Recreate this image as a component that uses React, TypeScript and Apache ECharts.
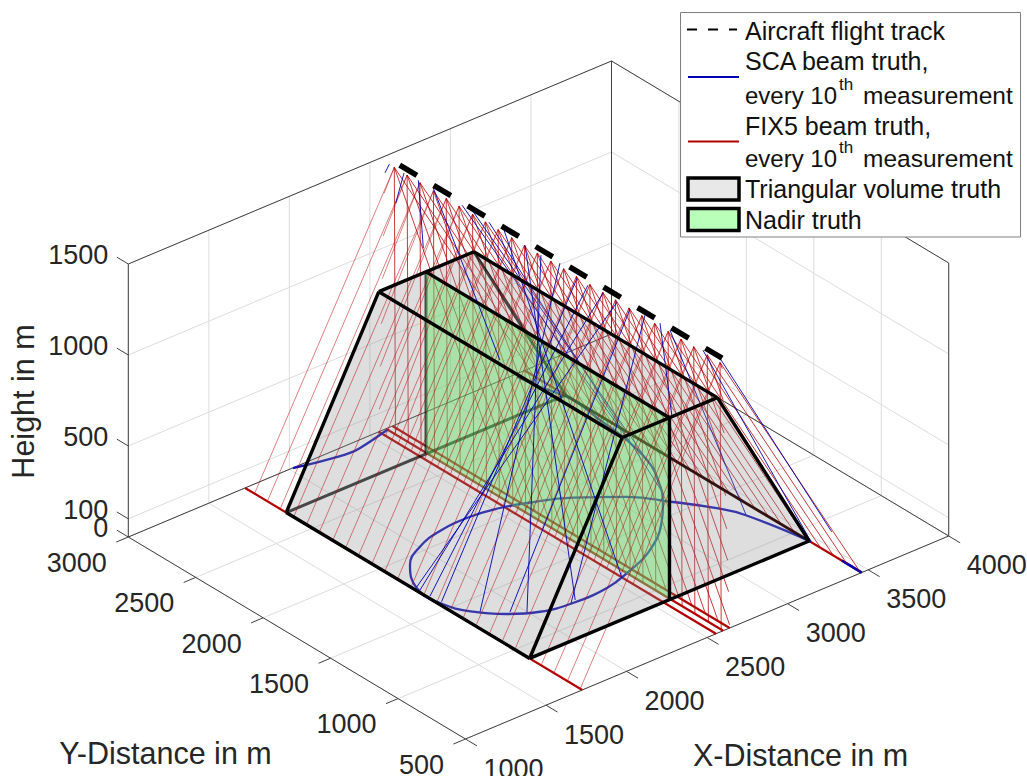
import React, { useEffect, useRef } from "react";
import * as echarts from "echarts";

// ---- axis data ----
const xTicks = [1000, 1500, 2000, 2500, 3000, 3500, 4000];
const yTicks = [500, 1000, 1500, 2000, 2500, 3000];
const zTicks = [0, 100, 500, 1000, 1500];

// ---- truth volume ----
const baseX = [1725, 3460];
const topX = [2300, 2890];
const volY = [890, 2695];
const volTop = 1000;
const nadirX = 2593;

// ---- flight track ----
const trackY = [2890, 500];
const trackZ = 1500;

// ---- FIX5 beams: measurement positions along track and ground target of the five beams ----
const fixTrackY = [2930, 2835, 2740, 2640, 2545, 2450, 2350, 2255, 2160, 2060, 1965, 1870, 1770, 1675, 1580, 1480, 1385, 1290, 1190, 1095, 1000, 900, 805, 710, 610, 515];
const fixBeamX = [3460, 2640, 2600, 2555, 1725];
const fixBeamDY = [0, -800, 0, 600, 0];
const beamTopZ = 1470;

// ---- SCA ground curves (x, y) ----
const scaCurveX = [3463, 3385, 3318, 3201, 3064, 2862, 2662, 2533, 2371, 2174, 2005, 1857, 1742, 1735, 1803, 1912, 2047, 2221, 2436, 2601, 2825, 3051, 3158, 3280, 3362, 3415, 3434, 3458, 3418, 3393];
const scaCurveY = [880, 1275, 1418, 1590, 1767, 1927, 2029, 2075, 2103, 2091, 2038, 1935, 1748, 1567, 1403, 1283, 1198, 1161, 1166, 1214, 1311, 1493, 1613, 1796, 1975, 2216, 2410, 2638, 2835, 2976];
const scaArcX = [2596, 2388, 2321, 2228, 2091, 2020];
const scaArcY = [2988, 2939, 2934, 2949, 2978, 2997];
const scaTipX = [3460, 3460];
const scaTipY = [646, 500];

// ---- SCA beams: [track y, start z, end x, end y, end z] ----
const scaBeams = [
  [2967, 1471, 2593, 2999, 1409],
  [2858, 1471, 2593, 2920, 1277],
  [2752, 1478, 2593, 2715, 1121],
  [2641, 1484, 2593, 2147, 758],
  [2428, 1485, 3415, 2178, 0],
  [2369, 1500, 3362, 1975, 0],
  [2228, 1480, 3230, 1714, 0],
  [2124, 1499, 2552, 1193, 0],
  [1961, 1472, 2247, 1176, 0],
  [1843, 1470, 1998, 1236, 0],
  [1702, 1489, 1829, 1382, 0],
  [1576, 1461, 1749, 1572, 0],
  [1494, 1460, 1741, 1648, 0],
  [1383, 1465, 1742, 1723, 0],
  [1279, 1462, 1748, 1755, 0],
  [1183, 1466, 1936, 1288, 0],
  [1072, 1482, 2214, 1167, 0],
  [960, 1488, 2593, 871, 1011],
  [886, 1482, 3389, 1273, 0],
  [642, 1481, 3463, 880, 0],
  [530, 1503, 3599, 889, 0],
];

const blue = "#0000b4";
const red = "#b40000";
const tickColor = "#404040";
const textColor = "#262626";
const font = "Liberation Sans";

// ---- view projection of the 3D axes ----
const X0 = 1000, Y0 = 500;
const proj = (x: number, y: number, z: number): number[] => [
  465.5 + (x - X0) * 0.16107 - (y - Y0) * 0.13488,
  739 - (x - X0) * 0.06767 - (y - Y0) * 0.0808 - z * 0.182,
];
type P3 = number[];
const xMin = 1000, xMax = 4000, yMin = 500, yMax = 3000, zMax = 1500;

const seg = (a: P3, b: P3) => [proj(a[0], a[1], a[2]), proj(b[0], b[1], b[2])];

// axes-limit clipping along y, as the plot box does
function clipY(a: P3, b: P3): number[][] {
  let t0 = 0, t1 = 1;
  const dy = b[1] - a[1];
  if (dy !== 0) {
    const ta = (yMin - a[1]) / dy, tb = (yMax - a[1]) / dy;
    const lo = Math.min(ta, tb), hi = Math.max(ta, tb);
    t0 = Math.max(t0, lo); t1 = Math.min(t1, hi);
  }
  const at = (t: number) => a.map((v, i) => v + (b[i] - v) * t);
  return seg(at(t0), at(t1));
}

function lineSeries(name: string, segs: number[][][], style: any, z: number, smooth: number | boolean = false) {
  const data: any[] = [];
  segs.forEach((s, i) => {
    if (i > 0) data.push([NaN, NaN]);
    s.forEach((p) => data.push(p));
  });
  return {
    type: "line", name, data, z, silent: true, showSymbol: false, symbol: "none", clip: false, smooth,
    connectNulls: false, lineStyle: { cap: "butt", join: "round", ...style },
  };
}

function polySeries(polys: { pts: number[][]; fill: string }[], z: number) {
  return {
    type: "custom", z, silent: true, clip: false,
    data: polys.map((p) => p.pts[0]),
    encode: { x: 0, y: 1 },
    renderItem: (params: any, api: any) => {
      const p = polys[params.dataIndex];
      return { type: "polygon", shape: { points: p.pts.map((q) => api.coord(q)) }, style: { fill: p.fill, stroke: "none" } };
    },
  };
}

function textSeries(items: { p: number[]; t: string; align: string }[], z: number) {
  return {
    type: "custom", z, silent: true, clip: false,
    data: items.map((i) => i.p),
    encode: { x: 0, y: 1 },
    renderItem: (params: any, api: any) => {
      const it = items[params.dataIndex];
      const c = api.coord(it.p);
      return {
        type: "text", x: c[0], y: c[1],
        style: { text: it.t, font: `27px "${font}"`, fill: textColor, align: it.align, verticalAlign: "middle", textAlign: it.align, textVerticalAlign: "middle" },
      };
    },
  };
}

const legendText = (text: string, x: number, y: number, size = 25) => ({
  type: "text", z: 102, silent: true, x, y,
  style: { text, font: `${size}px "${font}"`, fill: "#111111", align: "left", verticalAlign: "middle", textAlign: "left", textVerticalAlign: "middle" },
});
const axisTitle = (text: string, x: number, y: number, rotation = 0) => ({
  type: "text", z: 90, silent: true, x, y, rotation,
  style: { text, font: `30.5px "${font}"`, fill: textColor, align: "center", verticalAlign: "middle", textAlign: "center", textVerticalAlign: "middle" },
});
const legendLine = (x1: number, x2: number, y: number, stroke: string, lineDash?: number[]) => ({
  type: "line", z: 101, silent: true, shape: { x1, y1: y, x2, y2: y },
  style: { stroke, lineWidth: 2, lineDash },
});
const legendSwatch = (y: number, fill: string) => ({
  type: "rect", z: 101, silent: true, shape: { x: 688, y, width: 51, height: 22 },
  style: { fill, stroke: "#000000", lineWidth: 3.5 },
});

function buildOption() {
  // --- grid lines ---
  const grid: number[][][] = [];
  xTicks.forEach((x) => {
    grid.push(seg([x, yMin, 0], [x, yMax, 0]));
    grid.push(seg([x, yMax, 0], [x, yMax, zMax]));
  });
  yTicks.forEach((y) => {
    grid.push(seg([xMin, y, 0], [xMax, y, 0]));
    grid.push(seg([xMax, y, 0], [xMax, y, zMax]));
  });
  zTicks.forEach((z) => {
    grid.push(seg([xMin, yMax, z], [xMax, yMax, z]));
    grid.push(seg([xMax, yMax, z], [xMax, yMin, z]));
  });
  // --- axis box and tick marks ---
  const box: number[][][] = [
    seg([xMin, yMin, 0], [xMin, yMax, 0]),
    seg([xMin, yMin, 0], [xMax, yMin, 0]),
    seg([xMin, yMax, 0], [xMax, yMax, 0]),
    seg([xMax, yMin, 0], [xMax, yMax, 0]),
    seg([xMin, yMax, 0], [xMin, yMax, zMax]),
    seg([xMax, yMax, 0], [xMax, yMax, zMax]),
    seg([xMax, yMin, 0], [xMax, yMin, zMax]),
    seg([xMin, yMax, zMax], [xMax, yMax, zMax]),
    seg([xMax, yMin, zMax], [xMax, yMax, zMax]),
  ];
  xTicks.forEach((x) => box.push(seg([x, yMin, 0], [x, yMin - 85, 0])));
  yTicks.forEach((y) => box.push(seg([xMin, y, 0], [xMin - 75, y, 0])));
  zTicks.forEach((z) => box.push(seg([xMin, yMax, z], [xMin, yMax + 85, z])));

  // --- tick labels ---
  const labels: { p: number[]; t: string; align: string }[] = [];
  xTicks.forEach((x) => {
    const p = proj(x, yMin, 0);
    labels.push({ p: [p[0] + 18, p[1] + 29.5], t: String(x), align: "left" });
  });
  yTicks.forEach((y) => {
    const p = proj(xMin, y, 0);
    labels.push({ p: [p[0] - 21.5, p[1] + 25.7], t: String(y), align: "right" });
  });
  zTicks.forEach((z) => {
    const p = proj(xMin, yMax, z);
    labels.push({ p: [p[0] - 20, p[1] - 9], t: String(z), align: "right" });
  });

  // --- beams ---
  const fixBehind: number[][][] = [];
  const fixFront: number[][][] = [];
  fixTrackY.forEach((ty) => {
    fixBeamX.forEach((gx, i) => {
      const s = clipY([nadirX, ty, beamTopZ], [gx, ty + fixBeamDY[i], 0]);
      (gx > nadirX ? fixBehind : fixFront).push(s);
    });
  });
  const scaBehind: number[][][] = [];
  const scaFront: number[][][] = [];
  scaBeams.forEach(([ty, tz, ex, ey, ez]) => {
    const s = seg([nadirX, ty, tz], [ex, ey, ez]);
    (ex > nadirX ? scaBehind : scaFront).push(s);
  });
  const footprints = fixBeamX.map((gx) => seg([gx, yMin, 0], [gx, yMax, 0]));

  const curve = scaCurveX.map((x, i) => proj(x, scaCurveY[i], 0));
  const arc = scaArcX.map((x, i) => proj(x, scaArcY[i], 0));
  const tip = scaTipX.map((x, i) => proj(x, scaTipY[i], 0));

  // --- volume ---
  const [bx0, bx1] = baseX;
  const [tx0, tx1] = topX;
  const [y0, y1] = volY;
  const zt = volTop;
  const silhouette = [
    proj(bx0, y0, 0), proj(bx1, y0, 0), proj(tx1, y0, zt), proj(tx1, y1, zt), proj(tx0, y1, zt), proj(bx0, y1, 0),
  ];
  const nadir = [proj(nadirX, y0, 0), proj(nadirX, y0, zt), proj(nadirX, y1, zt), proj(nadirX, y1, 0)];
  const hidden = [
    seg([bx0, y1, 0], [bx1, y1, 0]),
    seg([bx1, y1, 0], [bx1, y0, 0]),
    seg([bx1, y1, 0], [tx1, y1, zt]),
    seg([nadirX, y1, 0], [nadirX, y1, zt]),
  ];
  const frontEdges = [
    seg([bx0, y1, 0], [bx0, y0, 0]),
    seg([bx0, y0, 0], [bx1, y0, 0]),
    seg([bx0, y1, 0], [tx0, y1, zt]),
    seg([tx0, y1, zt], [tx0, y0, zt]),
    seg([tx0, y1, zt], [tx1, y1, zt]),
    seg([tx1, y1, zt], [tx1, y0, zt]),
    seg([tx1, y0, zt], [tx0, y0, zt]),
    seg([tx0, y0, zt], [bx0, y0, 0]),
    seg([tx1, y0, zt], [bx1, y0, 0]),
    seg([nadirX, y1, zt], [nadirX, y0, zt]),
    seg([nadirX, y0, zt], [nadirX, y0, 0]),
  ];
  const track = seg([nadirX, trackY[0], trackZ], [nadirX, trackY[1], trackZ]);

  return {
    animation: false,
    backgroundColor: "#ffffff",
    grid: { left: 0, right: 0, top: 0, bottom: 0, containLabel: false },
    xAxis: { type: "value", min: 0, max: 1027, show: false },
    yAxis: { type: "value", min: 0, max: 776, inverse: true, show: false },
    series: [
      lineSeries("grid", grid, { color: "#dcdcdc", width: 1 }, 1),
      lineSeries("axes", box, { color: tickColor, width: 1 }, 2),
      textSeries(labels, 3),
      lineSeries("FIX5 footprints", footprints, { color: red, width: 2.2 }, 4),
      lineSeries("SCA curve", [curve, arc], { color: "#1010b8", width: 2.3 }, 5, 0.45),
      lineSeries("SCA tip", [tip], { color: blue, width: 2.6 }, 6),
      lineSeries("FIX5 beams behind", fixBehind, { color: red, width: 0.95, opacity: 0.82 }, 7),
      lineSeries("SCA beams behind", scaBehind, { color: blue, width: 1, opacity: 0.9 }, 8),
      polySeries([{ pts: silhouette, fill: "rgba(145,145,145,0.3)" }], 9),
      lineSeries("volume hidden edges", hidden, { color: "#000000", width: 3, opacity: 0.68 }, 10),
      polySeries([{ pts: nadir, fill: "rgba(92,230,92,0.4)" }], 11),
      lineSeries("FIX5 beams front", fixFront, { color: red, width: 0.8, opacity: 0.62 }, 13),
      lineSeries("SCA beams front", scaFront, { color: blue, width: 1, opacity: 0.9 }, 14),
      lineSeries("volume edges", frontEdges, { color: "#000000", width: 3.4 }, 15),
      lineSeries("flight track", [track], { color: "#000000", width: 5.5, type: [20, 19.6] }, 16),
    ],
    graphic: {
      elements: [
        axisTitle("Height in m", 22.5, 401.5, Math.PI / 2),
        axisTitle("Y-Distance in m", 165.5, 753),
        axisTitle("X-Distance in m", 800.5, 755),
        {
          type: "rect", z: 100, silent: true, shape: { x: 680.5, y: 12.5, width: 340, height: 224.5 },
          style: { fill: "#ffffff", stroke: "#808080", lineWidth: 1 },
        },
        legendLine(687, 737, 29.5, "#000000", [10, 11]),
        legendLine(688, 739, 77, blue),
        legendLine(688, 739, 141.5, red),
        legendSwatch(178, "#e8e8e8"),
        legendSwatch(208.5, "#b9ffb9"),
        legendText("Aircraft flight track", 745, 30.5),
        legendText("SCA beam truth,", 745, 61),
        legendText("every 10", 745, 95, 24),
        legendText("th", 839, 84, 17),
        legendText("measurement", 863, 95, 24.5),
        legendText("FIX5 beam truth,", 745, 126),
        legendText("every 10", 745, 158, 24),
        legendText("th", 839, 147, 17),
        legendText("measurement", 863, 158, 24.5),
        legendText("Triangular volume truth", 745, 189),
        legendText("Nadir truth", 745, 220),
      ],
    },
  };
}

export default function App() {
  const ref = useRef<HTMLDivElement>(null);
  useEffect(() => {
    if (!ref.current) return;
    const chart = echarts.init(ref.current, undefined, { renderer: "svg" });
    chart.setOption(buildOption() as any);
    return () => chart.dispose();
  }, []);
  return <div ref={ref} style={{ position: "fixed", left: 0, top: 0, width: 1027, height: 776 }} />;
}
